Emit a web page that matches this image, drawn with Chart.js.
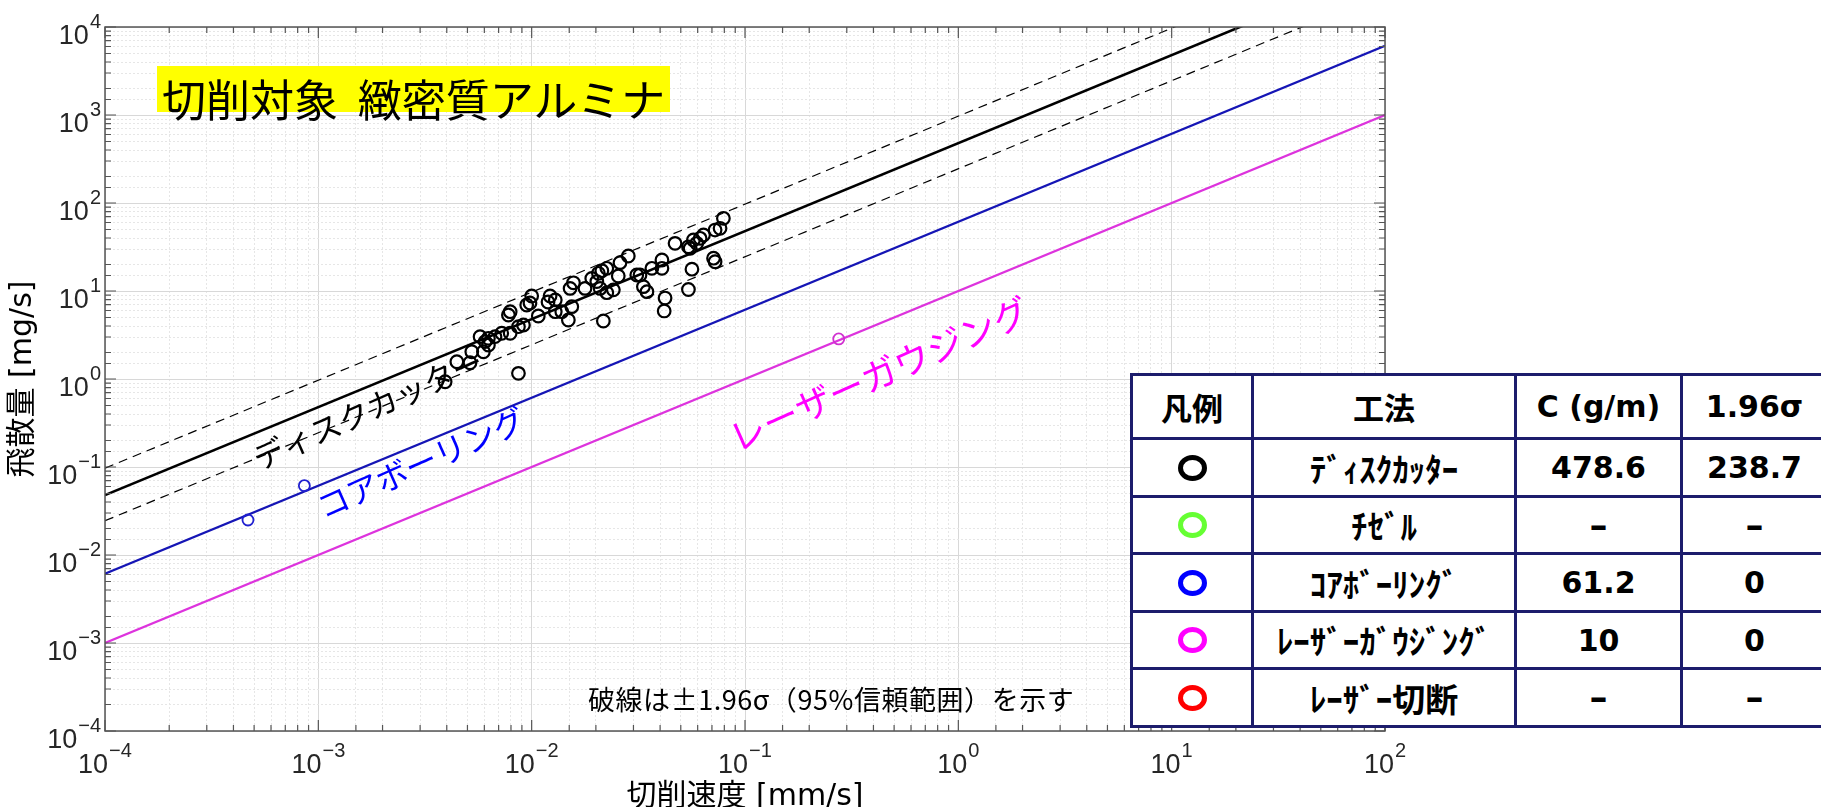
<!DOCTYPE html>
<html>
<head>
<meta charset="utf-8">
<script src="https://cdn.jsdelivr.net/npm/chart.js@4.4.1/dist/chart.umd.min.js"></script>
<style>
  body { margin: 0; background: #fff; }
  #wrap { position: relative; width: 1821px; height: 807px; overflow: hidden; }
  #myChart { position: absolute; left: 0; top: 0; }
  #title { position: absolute; left: 157px; top: 66px; height: 46px; line-height: 46px; padding: 0 5px;
    background: #ffff00; font: 44px 'Noto Sans CJK JP'; white-space: pre; color: #000; }
  #note { position: absolute; left: 588px; top: 679px; font: 27px 'Noto Sans CJK JP'; letter-spacing: 0.55px; white-space: nowrap; color: #000; }
  #legend { position: absolute; left: 1130px; top: 373px; width: 696px; border-collapse: collapse; table-layout: fixed; background: #fff; }
  #legend td { border: 3px solid #1c1c6c; text-align: center; vertical-align: middle; padding: 0; color: #000; }
  #legend .jp { font: bold 31px 'Noto Sans CJK JP'; }
  #legend .kana { font: bold 33px 'Noto Sans CJK JP'; }
  #legend .num { font: bold 30px 'DejaVu Sans'; }
  #legend .dash { font: bold 36px 'DejaVu Sans'; }
  .ring { display: block; box-sizing: border-box; margin: 0 auto; width: 29px; height: 26px; border: 5px solid; border-radius: 50%; }
</style>
</head>
<body>
<div id="wrap">
  <canvas id="myChart" width="1821" height="807"></canvas>
  <div id="title">切削対象  緻密質アルミナ</div>
  <div id="note">破線は±1.96σ（95%信頼範囲）を示す</div>
  <table id="legend"></table>
</div>
<script>
// measured points: disk cutter (mm/s, mg/s)
var diskX = [0.00393, 0.00446, 0.00514, 0.00524, 0.00594, 0.00627, 0.00605, 0.00573, 0.00627, 0.00673, 0.00724, 0.00793, 0.00867, 0.00915, 0.00778, 0.00793, 0.01074, 0.0100, 0.00948, 0.0122, 0.0129, 0.0129, 0.00867, 0.01384, 0.01486, 0.01542, 0.01514, 0.0157, 0.01778, 0.01913, 0.0202, 0.02055, 0.02133, 0.0225, 0.02094, 0.0225, 0.02415, 0.02168, 0.02546, 0.02594, 0.02838, 0.0311, 0.0322, 0.0334, 0.0347, 0.0366, 0.0408, 0.0408, 0.0422, 0.0470, 0.0543, 0.0553, 0.0573, 0.0594, 0.0616, 0.0639, 0.0724, 0.0764, 0.0792, 0.0712, 0.0724, 0.0564, 0.0543, 0.0418, 0.01193, 0.00982];
var diskY = [0.93, 1.57, 1.53, 2.04, 2.04, 2.43, 2.66, 3.03, 2.90, 3.03, 3.31, 3.31, 3.93, 4.11, 5.34, 5.82, 5.20, 8.77, 6.93, 8.77, 7.91, 5.82, 1.16, 5.82, 4.68, 6.64, 10.7, 12.4, 10.7, 13.9, 12.8, 15.9, 17.0, 18.1, 10.7, 9.57, 10.3, 4.56, 14.8, 21.0, 25.0, 15.2, 15.2, 11.2, 9.82, 18.1, 22.5, 18.1, 8.32, 34.8, 31.8, 30.5, 38.0, 34.8, 39.7, 43.3, 49.3, 51.6, 67.0, 23.6, 21.5, 17.7, 10.4, 5.93, 7.50, 7.31];
var coreX = [0.000468, 0.00086];
var coreY = [0.0250, 0.0614];
var gougeX = [0.275];
var gougeY = [2.85];

// fitted lines, end points at x = 1e-4 and x = 100
var lineX = [0.0001, 100];
var diskFitY = [0.0479, 47900];
var diskHighY = [0.097, 97000];
var diskLowY = [0.0245, 24500];
var coreFitY = [0.00612, 6120];
var gougeFitY = [0.001, 1000];

// legend table
var methods = ['ﾃﾞｨｽｸｶｯﾀｰ', 'ﾁｾﾞﾙ', 'ｺｱﾎﾞｰﾘﾝｸﾞ', 'ﾚｰｻﾞｰｶﾞｳｼﾞﾝｸﾞ', 'ﾚｰｻﾞｰ切断'];
var cValues = ['478.6', '–', '61.2', '10', '–'];
var sigmaValues = ['238.7', '–', '0', '0', '–'];
var legendColors = ['#000000', '#66ff33', '#0000ff', '#ff00ff', '#ff0000'];

function isMajor(v) {
  var l = Math.log10(v);
  return Math.abs(l - Math.round(l)) < 1e-6;
}
function pairs(xs, ys) {
  return xs.map(function (x, i) { return {x: x, y: ys[i]}; });
}

var rows = '<colgroup><col style="width:121px"><col style="width:263px"><col style="width:166px"><col style="width:146px"></colgroup>';
rows += '<tr style="height:64px"><td class="jp">凡例</td><td class="jp">工法</td><td class="num">C (g/m)</td><td class="num">1.96σ</td></tr>';
methods.forEach(function (m, i) {
  var cls1 = cValues[i] === '–' ? 'dash' : 'num';
  var cls2 = sigmaValues[i] === '–' ? 'dash' : 'num';
  rows += '<tr style="height:' + (i % 2 ? 57 : 58) + 'px"><td><span class="ring" style="border-color:' + legendColors[i] + '"></span></td>' +
    '<td class="kana">' + m + '</td><td class="' + cls1 + '">' + cValues[i] + '</td><td class="' + cls2 + '">' + sigmaValues[i] + '</td></tr>';
});
document.getElementById('legend').innerHTML = rows;

var tags = [
  {text: 'ディスクカッター', x: 0.00171, y: 0.45, size: 31, color: '#000000'},
  {text: 'コアボーリング', x: 0.00303, y: 0.111, size: 32, color: '#0000ff'},
  {text: 'レーザーガウジング', x: 0.425, y: 1.14, size: 36, color: '#ff00ff'}
];

// "10" with a raised exponent, placed from the scale
var baseFont = "27px 'Liberation Sans', Arial, sans-serif";
var expFont = "20px 'Liberation Sans', Arial, sans-serif";
function powText(ctx, v, x, base, align) {
  var e = String(Math.round(Math.log10(v))).replace('-', '\u2212');
  ctx.font = baseFont;
  var w1 = ctx.measureText('10').width;
  ctx.font = expFont;
  var w2 = ctx.measureText(e).width;
  var left = align === 'right' ? x - w1 - w2 - 1 : x - (w1 + w2 + 1) / 2;
  ctx.textAlign = 'left';
  ctx.textBaseline = 'alphabetic';
  ctx.font = baseFont;
  ctx.fillText('10', left, base);
  ctx.font = expFont;
  ctx.fillText(e, left + w1 + 1, base - 16);
}

// frame with inward ticks, tick labels and the rotated method names
var boxPlugin = {
  id: 'boxPlugin',
  afterDatasetsDraw: function (chart) {
    var ctx = chart.ctx, a = chart.chartArea, sx = chart.scales.x, sy = chart.scales.y;
    ctx.save();
    ctx.strokeStyle = '#555555';
    ctx.lineWidth = 1.5;
    ctx.strokeRect(a.left, a.top, a.right - a.left, a.bottom - a.top);
    ctx.beginPath();
    sx.ticks.forEach(function (t) {
      var p = sx.getPixelForValue(t.value), len = isMajor(t.value) ? 11 : 6;
      ctx.moveTo(p, a.bottom); ctx.lineTo(p, a.bottom - len);
      ctx.moveTo(p, a.top); ctx.lineTo(p, a.top + len);
    });
    sy.ticks.forEach(function (t) {
      var p = sy.getPixelForValue(t.value), len = isMajor(t.value) ? 11 : 6;
      ctx.moveTo(a.left, p); ctx.lineTo(a.left + len, p);
      ctx.moveTo(a.right, p); ctx.lineTo(a.right - len, p);
    });
    ctx.lineWidth = 1.2;
    ctx.stroke();

    ctx.fillStyle = '#262626';
    sx.ticks.forEach(function (t) {
      if (isMajor(t.value)) powText(ctx, t.value, sx.getPixelForValue(t.value), a.bottom + 42, 'center');
    });
    sy.ticks.forEach(function (t) {
      if (isMajor(t.value)) powText(ctx, t.value, a.left - 4, sy.getPixelForValue(t.value) + 17, 'right');
    });

    tags.forEach(function (t) {
      ctx.save();
      ctx.translate(sx.getPixelForValue(t.x), sy.getPixelForValue(t.y));
      ctx.rotate(-24 * Math.PI / 180);
      ctx.font = t.size + "px 'Noto Sans CJK JP'";
      ctx.fillStyle = t.color;
      ctx.textAlign = 'center';
      ctx.textBaseline = 'middle';
      ctx.fillText(t.text, 0, 0);
      ctx.restore();
    });
    ctx.restore();
  }
};

function gridColor(c) { return c.tick && isMajor(c.tick.value) ? '#d8d8d8' : '#e6e6e6'; }
function gridDash(c) { return c.tick && isMajor(c.tick.value) ? [] : [2, 2]; }
var titleFont = {family: "'DejaVu Sans', 'Noto Sans CJK JP'", size: 30};

const ctx = document.getElementById('myChart').getContext('2d');
let myChart = new Chart(ctx, {
  type: 'scatter',
  data: {
    datasets: [
      {data: pairs(diskX, diskY), borderColor: '#000000', backgroundColor: 'rgba(0,0,0,0)', pointRadius: 6.3, borderWidth: 2.2},
      {data: pairs(coreX, coreY), borderColor: '#2020d0', backgroundColor: 'rgba(0,0,0,0)', pointRadius: 5.5, borderWidth: 1.8},
      {data: pairs(gougeX, gougeY), borderColor: '#d030d0', backgroundColor: 'rgba(0,0,0,0)', pointRadius: 5.5, borderWidth: 1.8},
      {data: pairs(lineX, diskFitY), showLine: true, pointRadius: 0, borderColor: '#000000', borderWidth: 2.6},
      {data: pairs(lineX, diskHighY), showLine: true, pointRadius: 0, borderColor: '#000000', borderWidth: 1.2, borderDash: [9, 6]},
      {data: pairs(lineX, diskLowY), showLine: true, pointRadius: 0, borderColor: '#000000', borderWidth: 1.2, borderDash: [9, 6]},
      {data: pairs(lineX, coreFitY), showLine: true, pointRadius: 0, borderColor: '#1515b5', borderWidth: 2.2},
      {data: pairs(lineX, gougeFitY), showLine: true, pointRadius: 0, borderColor: '#dd33dd', borderWidth: 2.2}
    ]
  },
  options: {
    responsive: false,
    animation: false,
    layout: {padding: {left: 0, right: 436, top: 27, bottom: 0}},
    scales: {
      x: {
        type: 'logarithmic',
        min: 0.0001,
        max: 100,
        afterFit: function (s) { s.height = 76; },
        grid: {color: gridColor, lineWidth: 1, drawTicks: false},
        border: {display: false, dash: gridDash},
        ticks: {display: false, autoSkip: false},
        title: {display: true, text: '切削速度 [mm/s]', color: '#000', font: titleFont, padding: {top: 0, bottom: -8}}
      },
      y: {
        type: 'logarithmic',
        min: 0.0001,
        max: 10000,
        afterFit: function (s) { s.width = 105; },
        grid: {color: gridColor, lineWidth: 1, drawTicks: false},
        border: {display: false, dash: gridDash},
        ticks: {display: false, autoSkip: false},
        title: {display: true, text: '飛散量 [mg/s]', color: '#000', font: titleFont, padding: {top: 5, bottom: 0}}
      }
    },
    plugins: {
      legend: {display: false},
      tooltip: {enabled: false}
    }
  },
  plugins: [boxPlugin]
});
</script>
</body>
</html>
